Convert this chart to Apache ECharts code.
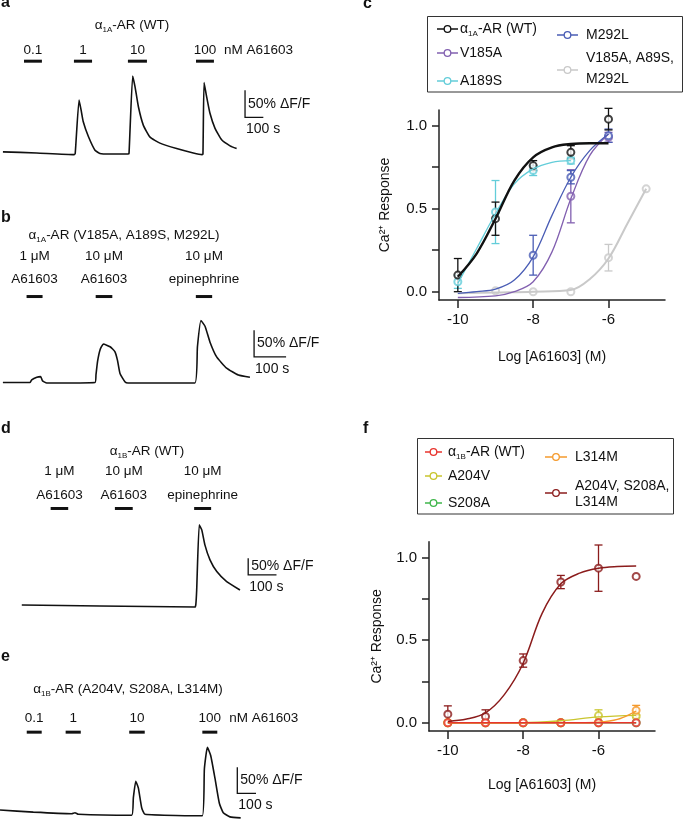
<!DOCTYPE html>
<html>
<head>
<meta charset="utf-8">
<script src="https://cdn.jsdelivr.net/npm/echarts@6/dist/echarts.min.js"></script>
<style>
html, body { margin: 0; padding: 0; background: #fff; }
#main { width: 685px; height: 820px; }
</style>
</head>
<body>
<div id="main"></div>
<script>
var FONT = 'Liberation Sans, Arial, Helvetica, sans-serif';
var INK = '#111';

// ---- Ca2+ traces: [time (s), response (% dF/F)] ----
var traceA = [[16,4],[200,2],[405,-1],[411,1],[432,99],[443,81],[455,59],[483,32],[519,7],[546,1],[600,0],[699,0],[705,1],[725,143],[738,123],[756,87],[783,53],[820,31],[874,20],[965,10],[1056,2],[1104,-1],[1109,0],[1115,131],[1129,105],[1147,75],[1175,47],[1211,26],[1257,15],[1293,10]];
var traceB = [[9,0],[94,0],[99,5],[115,10],[127,11],[133,3],[146,-1],[297,0],[300,15],[305,40],[313,62],[323,72],[344,67],[359,58],[367,42],[375,17],[391,1],[400,-1],[609,-1],[617,67],[628,116],[641,105],[656,76],[677,48],[708,27],[745,14],[781,10]];
var traceD = [[77,3],[353,0],[689,-3],[692,5],[695,48],[704,243],[713,228],[724,183],[742,138],[766,103],[801,73],[848,48]];
var traceE = [[0,9],[178,5],[383,2],[401,4],[419,1],[704,-1],[713,32],[726,64],[740,51],[758,13],[775,1],[1082,-2],[1093,88],[1109,129],[1127,113],[1150,69],[1173,22],[1194,4],[1230,-4],[1287,-6]];

// stimulus windows [start, end] (s) and their labels
var stimA = [[131,229],[404,503],[699,803],[1071,1169]];
var stimLabelsA = ['0.1','1','10','100'];
var stimB = [[83,133],[299,351],[612,663]];
var stimLabelsB = ['1 \u03bcM\nA61603','10 \u03bcM\nA61603','10 \u03bcM\nepinephrine'];
var stimD = [[179,241],[406,469],[686,746]];
var stimLabelsD = ['1 \u03bcM\nA61603','10 \u03bcM\nA61603','10 \u03bcM\nepinephrine'];
var stimE = [[143,223],[351,432],[691,774],[1082,1162]];
var stimLabelsE = ['0.1','1','10','100'];

var scaleTime = 100;   // s
var scaleResp = 50;    // % dF/F

// ---- dose response ----
var doses = [-10, -9, -8, -7, -6, -5];

var wt1aMean  = [0.10, 0.44, 0.76, 0.84, 1.04, null];
var wt1aErr   = [0.10, 0.10, 0.03, 0.04, 0.065, null];
var v185aMean = [null, null, null, 0.575, 0.93, null];
var v185aErr  = [null, null, null, 0.16, 0.03, null];
var a189sMean = [0.06, 0.48, 0.73, 0.79, null, null];
var a189sErr  = [0.04, 0.19, 0.03, 0.02, null, null];
var m292lMean = [null, null, 0.22, 0.69, 0.94, null];
var m292lErr  = [null, null, 0.12, 0.04, 0.04, null];
var tri1aMean = [null, 0.005, 0.0, 0.0, 0.205, 0.62];
var tri1aErr  = [null, null, null, null, 0.08, null];

var wt1aFit  = [[-10,0.09],[-9.5,0.23],[-9,0.44],[-8.5,0.67],[-8,0.81],[-7.5,0.87],[-7,0.89],[-6.5,0.895],[-6,0.895]];
var a189sFit = [[-10,0.05],[-9.5,0.26],[-9,0.47],[-8.5,0.65],[-8,0.74],[-7.5,0.78],[-7,0.79]];
var m292lFit = [[-10,-0.01],[-9.5,0.0],[-9,0.015],[-8.5,0.07],[-8,0.21],[-7.5,0.46],[-7,0.69],[-6.5,0.85],[-6,0.95]];
var v185aFit = [[-10,-0.035],[-9,-0.025],[-8.5,0.0],[-8,0.06],[-7.5,0.24],[-7,0.56],[-6.5,0.82],[-6,0.95]];
var tri1aFit = [[-10,-0.01],[-9,-0.005],[-8,0.0],[-7,0.01],[-6.5,0.075],[-6,0.2],[-5.5,0.41],[-5,0.62]];

var wt1bMean  = [0, 0, 0, 0, 0, 0];
var a204vMean = [0, 0, 0, 0, 0.043, 0.04];
var a204vErr  = [null, null, null, null, 0.035, 0.01];
var s208aMean = [0, 0, 0, 0, 0, 0];
var l314mMean = [0, 0, 0, 0, 0, 0.075];
var l314mErr  = [null, null, null, null, null, 0.03];
var tri1bMean = [0.052, 0.038, 0.376, 0.851, 0.935, 0.885];
var tri1bErr  = [0.05, 0.04, 0.04, 0.04, 0.14, null];

var wt1bFit  = [[-10,0],[-5,0]];
var s208aFit = [[-10,0],[-5,0]];
var a204vFit = [[-10,0],[-8,0],[-7,0.012],[-6,0.035],[-5,0.045]];
var l314mFit = [[-10,0],[-6.5,0],[-6,0.003],[-5.5,0.02],[-5,0.07]];
var tri1bFit = [[-10,0.008],[-9.5,0.022],[-9,0.06],[-8.5,0.17],[-8,0.36],[-7.5,0.66],[-7,0.84],[-6.5,0.905],[-6,0.935],[-5.5,0.945],[-5,0.948]];

// ---- helpers ----
function sub(pre, s, post) { return '{m|' + pre + '}{s|' + s + '}{m|' + post + '}'; }
function richSub(size, lh) {
    return {
        m: { fontSize: size, fontFamily: FONT, fill: INK, lineHeight: lh },
        s: { fontSize: 8, fontFamily: FONT, fill: INK, lineHeight: 8, verticalAlign: 'bottom', textVerticalAlign: 'bottom' }
    };
}
function txt(x, y, text, opt) {
    opt = opt || {};
    var st = {
        text: text, fill: INK, fontFamily: FONT, fontSize: opt.size || 14,
        fontWeight: opt.weight || 'normal',
        align: opt.align || 'left', textAlign: opt.align || 'left',
        verticalAlign: 'middle', textVerticalAlign: 'middle'
    };
    if (opt.lh) st.lineHeight = opt.lh;
    if (opt.rich) st.rich = opt.rich;
    return { type: 'text', x: x, y: y, style: st, z: 10 };
}

var panels = [
    { grid: {left: 0, top: 44.8, width: 274.5, height: 114.7}, x: [0, 1500], y: [-10, 200],
      trace: traceA, stim: stimA, labels: stimLabelsA, stimY: 170, labelY: 190, lh: 16,
      unit: 'nM A61603', unitGap: 10, bar: [1339, 67] },
    { grid: {left: 0, top: 243.66, width: 288, height: 144.2}, x: [0, 900], y: [-10, 260],
      trace: traceB, stim: stimB, labels: stimLabelsB, stimY: 161, labelY: 215, lh: 23,
      bar: [794, 48] },
    { grid: {left: 0, top: 462.38, width: 283, height: 148.63}, x: [0, 1000], y: [-15, 430],
      trace: traceD, stim: stimD, labels: stimLabelsD, stimY: 292, labelY: 367, lh: 23.3,
      bar: [877, 93] },
    { grid: {left: 0, top: 710.2, width: 261.8, height: 112.14}, x: [0, 1400], y: [-10, 200],
      trace: traceE, stim: stimE, labels: stimLabelsE, stimY: 158, labelY: 184, lh: 16,
      unit: 'nM A61603', unitGap: 12, bar: [1269, 41] }
];

var grids = [], xAxes = [], yAxes = [], series = [];

panels.forEach(function (p, gi) {
    grids.push(p.grid);
    xAxes.push({ gridIndex: gi, type: 'value', min: p.x[0], max: p.x[1], show: false });
    yAxes.push({ gridIndex: gi, type: 'value', min: p.y[0], max: p.y[1], show: false });
    series.push({
        type: 'line', xAxisIndex: gi, yAxisIndex: gi, data: p.trace,
        symbol: 'none', smooth: 0.15, lineStyle: { color: INK, width: 1.6 }, silent: true
    });
    series.push({
        type: 'custom', xAxisIndex: gi, yAxisIndex: gi, data: p.stim,
        renderItem: function (params, api) {
            var i = params.dataIndex;
            var a = api.coord([api.value(0), p.stimY]);
            var b = api.coord([api.value(1), p.stimY]);
            var t = api.coord([(api.value(0) + api.value(1)) / 2, p.labelY]);
            var kids = [
                { type: 'line', shape: {x1: a[0], y1: a[1], x2: b[0], y2: b[1]}, style: { stroke: INK, lineWidth: 3 } },
                txt(t[0], t[1], p.labels[i], { align: 'center', size: 13.5, lh: p.lh })
            ];
            if (p.unit && i === p.stim.length - 1) kids.push(txt(b[0] + p.unitGap, t[1], p.unit, { size: 13.5 }));
            return { type: 'group', children: kids };
        }
    });
    series.push({
        type: 'custom', xAxisIndex: gi, yAxisIndex: gi, data: [[p.bar[0], p.bar[1], scaleTime, scaleResp]],
        renderItem: function (params, api) {
            var x = api.value(0), y = api.value(1);
            var top = api.coord([x, y + api.value(3)]);
            var o = api.coord([x, y]);
            var r = api.coord([x + api.value(2), y]);
            return { type: 'group', children: [
                { type: 'polyline', shape: { points: [top, o, r] }, style: { stroke: INK, lineWidth: 1.3, fill: null } },
                txt(o[0] + 3, (top[1] + o[1]) / 2, scaleResp + '% \u0394F/F', { size: 14 }),
                txt(o[0] + 1, o[1] + 12, scaleTime + ' s', { size: 14 })
            ] };
        }
    });
});

// dose-response grids
var doseGrids = [
    { left: 439, top: 110, width: 226, height: 190, nameGap: 50, yNameGap: 47 },
    { left: 429, top: 541.7, width: 226, height: 189.3, nameGap: 47, yNameGap: 45 }
];
doseGrids.forEach(function (g, k) {
    var gi = 4 + k;
    grids.push({ left: g.left, top: g.top, width: g.width, height: g.height });
    var axisLine = { show: true, onZero: false, lineStyle: { color: '#222', width: 1.5 } };
    xAxes.push({
        gridIndex: gi, type: 'value', min: -10.5, max: -4.5,
        name: 'Log [A61603] (M)', nameLocation: 'middle', nameGap: g.nameGap,
        nameTextStyle: { fontFamily: FONT, fontSize: 14, color: INK },
        axisLine: axisLine, splitLine: { show: false },
        axisTick: { show: true, length: 8, lineStyle: { color: '#222', width: 1.5 }, customValues: [-10, -8, -6] },
        axisLabel: { margin: 12, fontFamily: FONT, fontSize: 15, color: INK, customValues: [-10, -8, -6],
                     formatter: function (v) { return String(v); } }
    });
    yAxes.push({
        gridIndex: gi, type: 'value', min: -0.05, max: 1.095,
        name: 'Ca\u00b2\u207a Response', nameLocation: 'middle', nameGap: g.yNameGap, nameRotate: 90,
        nameTextStyle: { fontFamily: FONT, fontSize: 14, color: INK },
        axisLine: axisLine, splitLine: { show: false },
        axisTick: { show: true, length: 7, lineStyle: { color: '#222', width: 1.5 }, customValues: [0, 0.25, 0.5, 0.75, 1] },
        axisLabel: { margin: 12, fontFamily: FONT, fontSize: 15, color: INK, customValues: [0, 0.5, 1],
                     formatter: function (v) { return v.toFixed(1); } }
    });
});

function pts(mean) {
    var out = [];
    doses.forEach(function (d, i) { if (mean[i] != null) out.push([d, mean[i]]); });
    return out;
}
function errs(mean, err) {
    var out = [];
    if (!err) return out;
    doses.forEach(function (d, i) { if (mean[i] != null && err[i] != null) out.push([d, mean[i], err[i]]); });
    return out;
}
function doseSeries(gi, color, mean, err, fit, width) {
    return [
        { type: 'line', xAxisIndex: gi, yAxisIndex: gi, data: fit, symbol: 'none', smooth: 0.35,
          lineStyle: { color: color, width: width }, silent: true },
        { type: 'custom', xAxisIndex: gi, yAxisIndex: gi, data: errs(mean, err),
          renderItem: function (params, api) {
              var x = api.value(0), m = api.value(1), e = api.value(2);
              var t = api.coord([x, m + e]), b = api.coord([x, m - e]);
              var st = { stroke: color, lineWidth: 1.3, fill: null };
              return { type: 'group', children: [
                  { type: 'line', shape: {x1: t[0], y1: t[1], x2: b[0], y2: b[1]}, style: st },
                  { type: 'line', shape: {x1: t[0] - 4, y1: t[1], x2: t[0] + 4, y2: t[1]}, style: st },
                  { type: 'line', shape: {x1: b[0] - 4, y1: b[1], x2: b[0] + 4, y2: b[1]}, style: st }
              ] };
          } },
        { type: 'scatter', xAxisIndex: gi, yAxisIndex: gi, data: pts(mean), symbol: 'emptyCircle', symbolSize: 7,
          itemStyle: { color: color, borderColor: color, borderWidth: 1.3 }, silent: true }
    ];
}

var colC = { wt: '#111111', v185a: '#8260b0', a189s: '#63cdd9', m292l: '#4a5db5', tri: '#c9c9c9' };
var colF = { wt: '#e8342e', a204v: '#c9c52e', s208a: '#3fb64b', l314m: '#f59a2c', tri: '#8b1c1c' };

series = series
    .concat(doseSeries(4, colC.tri, tri1aMean, tri1aErr, tri1aFit, 2))
    .concat(doseSeries(4, colC.v185a, v185aMean, v185aErr, v185aFit, 1.3))
    .concat(doseSeries(4, colC.m292l, m292lMean, m292lErr, m292lFit, 1.3))
    .concat(doseSeries(4, colC.a189s, a189sMean, a189sErr, a189sFit, 1.3))
    .concat(doseSeries(4, colC.wt, wt1aMean, wt1aErr, wt1aFit, 2.4))
    .concat(doseSeries(5, colF.s208a, s208aMean, null, s208aFit, 1.3))
    .concat(doseSeries(5, colF.a204v, a204vMean, a204vErr, a204vFit, 1.3))
    .concat(doseSeries(5, colF.l314m, l314mMean, l314mErr, l314mFit, 1.3))
    .concat(doseSeries(5, colF.tri, tri1bMean, tri1bErr, tri1bFit, 1.5))
    .concat(doseSeries(5, colF.wt, wt1bMean, null, wt1bFit, 1.3));

// ---- text, legends ----
function legendItem(x1, x2, y, color, tx, ty, label, opt) {
    var cx = (x1 + x2) / 2;
    return [
        { type: 'line', shape: {x1: x1, y1: y, x2: x2, y2: y}, style: { stroke: color, lineWidth: 1.5 }, z: 10 },
        { type: 'circle', shape: {cx: cx, cy: y, r: 3.3}, style: { stroke: color, fill: '#fff', lineWidth: 1.3 }, z: 11 },
        txt(tx, ty, label, opt)
    ];
}

var graphics = [
    txt(1, 3, 'a', { size: 16, weight: 'bold' }),
    txt(1, 217.5, 'b', { size: 16, weight: 'bold' }),
    txt(363, 4, 'c', { size: 16, weight: 'bold' }),
    txt(1, 428.7, 'd', { size: 16, weight: 'bold' }),
    txt(1, 656.5, 'e', { size: 16, weight: 'bold' }),
    txt(363, 428.5, 'f', { size: 16, weight: 'bold' }),
    txt(132, 25, sub('\u03b1', '1A', '-AR (WT)'), { align: 'center', rich: richSub(13.5, 17) }),
    txt(124, 235, sub('\u03b1', '1A', '-AR (V185A, A189S, M292L)'), { align: 'center', rich: richSub(13.5, 17) }),
    txt(147, 451, sub('\u03b1', '1B', '-AR (WT)'), { align: 'center', rich: richSub(13.5, 17) }),
    txt(128, 689, sub('\u03b1', '1B', '-AR (A204V, S208A, L314M)'), { align: 'center', rich: richSub(13.5, 17) }),
    { type: 'rect', shape: {x: 427.5, y: 16.5, width: 255, height: 75.5}, style: { stroke: '#333', fill: '#fff', lineWidth: 1 }, z: 9 },
    { type: 'rect', shape: {x: 417.5, y: 438.5, width: 256, height: 75.5}, style: { stroke: '#333', fill: '#fff', lineWidth: 1 }, z: 9 }
];
graphics = graphics
    .concat(legendItem(437, 458, 29, colC.wt, 460, 29, sub('\u03b1', '1A', '-AR (WT)'), { rich: richSub(14, 17) }))
    .concat(legendItem(437, 458, 53, colC.v185a, 460, 53, 'V185A'))
    .concat(legendItem(437, 458, 81, colC.a189s, 460, 81, 'A189S'))
    .concat(legendItem(557, 578, 35, colC.m292l, 586, 35, 'M292L'))
    .concat(legendItem(557, 578, 70, colC.tri, 586, 68.7, 'V185A, A89S,\nM292L', { lh: 20.7 }))
    .concat(legendItem(425, 442, 452, colF.wt, 448, 452, sub('\u03b1', '1B', '-AR (WT)'), { rich: richSub(14, 17) }))
    .concat(legendItem(425, 442, 476, colF.a204v, 448, 476, 'A204V'))
    .concat(legendItem(425, 442, 503, colF.s208a, 448, 503, 'S208A'))
    .concat(legendItem(545, 567, 457, colF.l314m, 575, 457, 'L314M'))
    .concat(legendItem(545, 567, 493, colF.tri, 575, 494.2, 'A204V, S208A,\nL314M', { lh: 16.7 }));

var myChart = echarts.init(document.getElementById('main'), null, { renderer: 'canvas' });
myChart.setOption({
    backgroundColor: '#fff',
    animation: false,
    grid: grids,
    xAxis: xAxes,
    yAxis: yAxes,
    series: series,
    graphic: { elements: graphics }
});
</script>
</body>
</html>
